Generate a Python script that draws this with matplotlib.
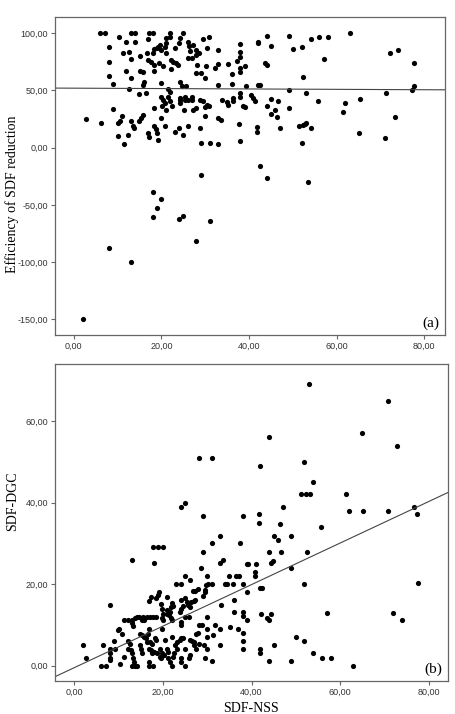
import numpy as np
import matplotlib.pyplot as plt
from matplotlib.ticker import FuncFormatter

# (a) SDF-NSS vs efficiency of SDF reduction
nss_a = [2.7, 6.3, 5.9, 7.1, 8.0, 8.0, 8.0, 9.0, 9.0, 10.3, 11.3, 12.0, 11.9, 13.0, 13.0, 12.6,
         12.5, 10.1, 10.5, 11.0, 10.0, 11.4, 12.3, 13.0, 14.0, 14.0, 13.1, 13.8, 13.4, 14.9,
         15.1, 14.9, 15.1, 15.8, 15.8, 16.0, 16.4, 15.8, 15.4, 16.6, 17.1, 18.1, 17.0, 17.0,
         17.0, 17.2, 17.7, 18.0, 18.2, 18.2, 18.2, 18.2, 18.3, 18.7, 18.9, 19.3, 18.9, 19.3,
         19.6, 20.0, 19.5, 20.0, 20.0, 20.0, 20.4, 20.8, 20.4, 20.2, 20.9, 21.1, 21.1, 21.9,
         22.0, 21.0, 20.9, 21.5, 21.1, 21.4, 21.9, 21.9, 22.3, 22.1, 22.1, 22.7, 23.1, 23.4,
         23.8, 23.1, 24.0, 24.2, 24.2, 24.2, 24.2, 24.0, 24.2, 25.0, 24.6, 25.0, 25.1, 25.3,
         25.3, 25.7, 26.1, 26.0, 26.4, 26.5, 26.1, 26.0, 27.0, 27.0, 27.0, 27.3, 27.3, 27.9,
         27.9, 28.0, 28.2, 28.0, 28.5, 28.8, 28.9, 29.0, 29.1, 29.5, 29.5, 29.9, 29.9, 30.0,
         30.1, 30.3, 30.4, 30.8, 30.8, 31.0, 32.2, 32.9, 33.0, 32.9, 32.9, 33.0, 33.7, 33.9,
         34.9, 35.2, 35.3, 36.0, 36.0, 36.4, 36.4, 37.2, 37.7, 37.9, 38.0, 38.0, 38.0, 38.0,
         38.0, 38.0, 38.0, 38.7, 39.0, 39.2, 39.0, 40.5, 40.9, 41.3, 41.7, 41.7, 42.0, 42.0,
         42.0, 42.4, 42.4, 44.0, 43.6, 44.2, 44.0, 45.1, 44.9, 45.1, 45.9, 46.3, 46.7, 47.0,
         49.2, 49.2, 49.2, 50.1, 51.4, 52.0, 52.2, 52.0, 52.2, 52.7, 52.9, 53.1, 54.1, 54.1,
         55.8, 56.0, 57.1, 58.1, 61.5, 62.0, 63.0, 65.3, 65.0, 71.0, 71.2, 72.1, 73.3, 74.0,
         77.1, 77.7, 77.7,
         29.0, 44.0, 53.5, 18.0, 20.0, 19.0, 18.0, 24.0, 25.0, 31.0, 28.0, 8.0, 13.0, 2.0]
eff_a = [25.3, 21.5, 100, 100, 87.8, 75.3, 62.8, 56.0, 33.7, 97.0, 82.5, 92.0, 67.0, 61.3, 77.3, 84.0,
         51.5, 21.5, 23.0, 28.0, 10.4, 3.4, 11.3, 100, 100, 92.7, 23.5, 17.0, 19.0, 23.5,
         67.0, 47.0, 80.0, 66.5, 55.0, 57.0, 47.6, 28.7, 25.8, 82.5, 100, 100, 94.8, 76.7,
         12.7, 9.3, 75.3, 82.5, 86.0, 67.0, 72.5, 18.6, 35.0, 16.5, 12.7, 7.0, 87.0, 88.4,
         89.8, 85.5, 74.0, 56.4, 44.7, 25.8, 71.0, 18.6, 41.8, 36.0, 88.4, 91.3, 95.6, 97.0,
         100, 82.5, 39.0, 44.7, 33.0, 51.0, 49.0, 40.4, 36.0, 68.6, 76.7, 75.3, 87.0, 74.0,
         72.4, 13.3, 17.0, 43.3, 57.8, 41.8, 39.0, 91.9, 95.6, 100, 53.5, 11.3, 32.5, 41.8,
         44.7, 53.5, 41.8, 92.7, 89.2, 84.6, 78.2, 19.1, 78.2, 44.7, 41.8, 89.8, 33.0, 85.5,
         34.6, 81.0, 72.4, 65.0, 82.5, 17.0, 41.8, 4.0, 65.0, 94.8, 40.4, 27.3, 35.5, 60.7,
         71.0, 87.0, 37.5, 97.0, 36.0, 4.0, 69.5, 85.5, 72.9, 55.0, 25.8, 3.4, 23.8, 41.8,
         39.5, 37.5, 73.2, 55.8, 64.8, 43.3, 40.4, 75.9, 20.6, 69.5, 90.4, 84.0, 79.6, 66.5,
         47.6, 5.5, 44.7, 36.0, 71.5, 54.0, 35.5, 46.2, 43.3, 40.4, 18.0, 13.3, 92.7, 91.3,
         55.0, 55.0, -16.3, 98.0, 74.4, 72.4, 36.6, 89.0, 42.7, 29.3, 33.0, 26.7, 40.4, 17.0,
         98.0, 50.6, 34.6, 86.3, 18.6, 88.4, 61.6, 4.0, 20.0, 21.0, 47.4, 21.5, 17.0, 94.8,
         41.0, 97.0, 77.3, 97.0, 31.6, 39.0, 100, 42.4, 12.7, 8.4, 47.4, 82.5, 26.4, 85.5,
         50.3, 53.5, 74.4,
         -23.6, -26.8, -30.0, -38.7, -44.8, -52.4, -60.9, -62.3, -59.7, -64.4, -81.8, -87.3, -99.8, -149.6]

# (b) SDF-NSS vs SDF-DGC
nss_b = [53.0, 70.8, 64.9, 72.8, 44.0, 28.1, 31.0, 51.9, 42.0, 53.9, 51.2, 52.2, 53.1, 61.2,
         61.9, 65.2, 70.8, 76.7, 77.3, 24.0, 25.1, 29.0, 38.0, 41.6, 41.6, 47.0, 46.4, 55.6,
         33.0, 45.0, 46.0, 49.0, 13.0, 17.9, 19.0, 20.1, 18.0, 29.0, 31.0, 37.5, 44.0, 46.6,
         52.5, 33.0, 33.5, 38.9, 39.2, 41.1, 44.5, 44.9, 28.7, 49.0, 25.1, 26.1, 30.0, 35.0,
         36.6, 37.2, 40.7, 40.7, 22.9, 24.0, 26.9, 27.2, 28.0, 29.5, 29.8, 30.2, 31.0, 34.0,
         34.5, 35.9, 38.0, 51.8, 77.5, 38.9, 41.9, 42.4, 19.1, 19.0, 18.5, 17.3, 16.9, 20.9,
         25.0, 24.2, 25.4, 26.3, 27.0, 27.2, 29.5, 29.0, 36.0, 8.1, 33.1, 36.0, 38.1, 38.1,
         39.0, 42.1, 44.3, 43.4, 44.0, 56.9, 71.9, 73.9, 35.1, 37.0, 38.1, 31.7, 30.0, 28.2,
         28.9, 28.0, 33.0, 38.0, 38.0, 42.0, 42.0, 45.0, 50.0, 51.8, 53.9, 55.9, 58.0, 62.9,
         44.0, 49.0, 33.0, 30.0, 29.9, 29.3, 29.6, 31.0, 30.0, 31.3,
         2.1, 2.8, 6.5, 6.1, 7.2, 8.1, 8.1, 8.1, 8.1, 9.1, 9.2, 10.2, 10.0, 10.4, 10.7, 11.2,
         12.2, 13.0, 11.3, 12.2, 12.5, 12.1, 12.8, 13.0, 13.2, 13.1, 13.0, 13.2, 13.7, 14.1,
         13.6, 13.7, 14.1, 14.7, 15.6, 16.5, 15.2, 15.8, 14.9, 15.2, 14.9, 15.0, 15.8, 16.2,
         16.4, 15.2, 17.1, 17.7, 18.4, 16.9, 16.7, 17.1, 17.5, 17.0, 17.4, 17.8, 17.6, 16.9,
         17.0, 17.9, 18.0, 18.6, 18.2, 18.4, 19.7, 19.9, 20.1, 19.9, 20.1, 19.9, 19.4, 19.9,
         20.3, 19.4, 19.7, 20.6, 20.9, 21.2, 21.2, 21.6, 22.0, 21.4, 21.6, 21.8, 22.0, 22.2,
         20.9, 21.0, 22.0, 21.8, 22.0, 22.7, 23.1, 23.3, 22.4, 22.5, 23.9, 24.2, 24.5, 24.1,
         24.1, 25.1, 24.2, 24.2, 23.8, 24.2, 24.6, 25.7, 26.1, 25.1, 25.8, 26.1, 26.6, 27.1,
         26.2, 26.0, 27.0, 27.4, 28.1, 27.5, 25.0]
dgc_b = [69.0, 65.0, 57.0, 54.0, 56.0, 51.0, 51.0, 50.0, 49.0, 45.0, 42.0, 42.0, 42.0, 42.0,
         38.0, 38.0, 38.0, 39.0, 37.3, 39.0, 40.0, 36.7, 36.7, 37.1, 35.0, 39.0, 34.8, 34.0,
         31.9, 31.9, 30.8, 31.9, 26.0, 29.0, 29.0, 29.0, 25.1, 27.9, 30.0, 30.0, 27.9, 27.9,
         27.9, 25.1, 25.9, 25.0, 25.0, 25.0, 25.2, 25.7, 24.0, 24.0, 22.0, 21.0, 22.0, 22.0,
         22.0, 22.0, 23.0, 22.0, 20.0, 20.0, 18.3, 18.3, 18.9, 18.5, 19.8, 20.0, 20.0, 20.0,
         20.0, 20.0, 20.0, 20.0, 20.3, 18.0, 19.0, 19.0, 18.1, 17.3, 16.5, 16.9, 15.8, 16.9,
         16.5, 16.2, 15.7, 15.7, 15.8, 16.2, 18.1, 17.0, 16.1, 15.0, 15.0, 13.1, 13.1, 12.2,
         11.1, 12.7, 12.7, 11.6, 11.2, 13.0, 13.0, 11.1, 9.6, 9.1, 8.1, 9.9, 9.1, 10.1,
         10.1, 8.1, 9.1, 6.1, 4.0, 4.0, 3.0, 5.1, 7.1, 6.0, 3.0, 2.0, 2.0, 0.0,
         1.1, 1.1, 5.1, 7.1, 4.2, 5.1, 1.8, 1.1, 12.0, 7.5,
         5.1, 2.0, 5.1, 0.0, 0.0, 3.0, 2.0, 1.4, 4.0, 6.1, 4.0, 9.1, 8.7, 0.3, 7.9, 11.2,
         11.2, 11.2, 2.2, 6.1, 5.3, 4.0, 3.8, 3.0, 2.0, 0.0, 10.4, 9.7, 11.8, 12.0,
         1.0, 0.0, 0.0, 12.0, 12.0, 12.0, 11.2, 11.2, 7.9, 7.5, 5.1, 4.2, 7.1, 6.7,
         5.9, 3.0, 12.0, 12.0, 12.0, 9.1, 7.9, 5.9, 5.3, 4.2, 3.8, 3.4, 3.0, 1.0,
         0.0, 0.0, 3.4, 3.0, 6.7, 6.3, 15.1, 14.0, 12.8, 11.6, 11.2, 9.1, 4.2, 3.0,
         2.6, 2.2, 2.0, 6.3, 4.0, 3.4, 1.8, 1.0, 0.0, 12.4, 13.2, 14.3, 15.3, 14.6,
         13.6, 12.7, 11.2, 11.6, 7.1, 5.1, 5.9, 4.0, 2.2, 3.0, 6.3, 6.7, 6.7, 2.0,
         1.0, 0.0, 10.8, 10.0, 13.1, 13.8, 14.6, 14.9, 14.4, 12.0, 12.0, 6.3, 6.1, 5.9,
         2.6, 2.0, 5.1, 4.2, 5.3, 7.9, 4.2]

# fit lines as drawn in the figure
fit_a = (52.0, -0.017)
fit_b = (-0.5, 0.51)

xticks = [0, 20, 40, 60, 80]
yticks_a = [-150, -100, -50, 0, 50, 100]
yticks_b = [0, 20, 40, 60]

comma = FuncFormatter(lambda v, p: ('%.2f' % v).replace('.', ','))
serif = ['Liberation Serif', 'DejaVu Serif']


def style_axis(ax):
    for s in ax.spines.values():
        s.set_color('#666666')
        s.set_linewidth(0.9)
    ax.tick_params(labelsize=6.5, labelcolor='#333333', color='#666666',
                   length=3, width=0.8, pad=2)
    ax.xaxis.set_major_formatter(comma)
    ax.yaxis.set_major_formatter(comma)
    ax.set_xticks(xticks)
    for lab in ax.get_xticklabels() + ax.get_yticklabels():
        lab.set_family('Liberation Sans')


fig = plt.figure(figsize=(4.56, 7.14), dpi=100)

ax1 = fig.add_axes([0.1206, 0.5308, 0.855, 0.4454])
ax1.scatter(nss_a, eff_a, s=14, c='black', linewidths=0)
xl = np.array([-4.3, 84.7])
ax1.plot(xl, fit_a[0] + fit_a[1] * xl, color='#444444', lw=0.8)
ax1.set_xlim(-4.3, 84.7)
ax1.set_ylim(-163.7, 114.2)
ax1.set_yticks(yticks_a)
style_axis(ax1)
ax1.text(0.985, 0.015, '(a)', transform=ax1.transAxes, ha='right', va='bottom',
         fontsize=11, family=serif)

ax2 = fig.add_axes([0.1206, 0.0462, 0.862, 0.444])
ax2.scatter(nss_b, dgc_b, s=14, c='black', linewidths=0)
xl = np.array([-4.3, 84.3])
ax2.plot(xl, fit_b[0] + fit_b[1] * xl, color='#444444', lw=0.8)
ax2.set_xlim(-4.3, 84.3)
ax2.set_ylim(-3.75, 74)
ax2.set_yticks(yticks_b)
style_axis(ax2)
ax2.text(0.985, 0.015, '(b)', transform=ax2.transAxes, ha='right', va='bottom',
         fontsize=11, family=serif)

fig.text(12 / 456, 1 - 194 / 714, 'Efficiency of SDF reduction', rotation=90,
         ha='center', va='center', fontsize=10, family=serif)
fig.text(13 / 456, 1 - 501 / 714, 'SDF-DGC', rotation=90,
         ha='center', va='center', fontsize=10, family=serif)
fig.text(251 / 456, 1 - 708 / 714, 'SDF-NSS', ha='center', va='center',
         fontsize=10, family=serif)

fig.savefig('out.png', dpi=100)
